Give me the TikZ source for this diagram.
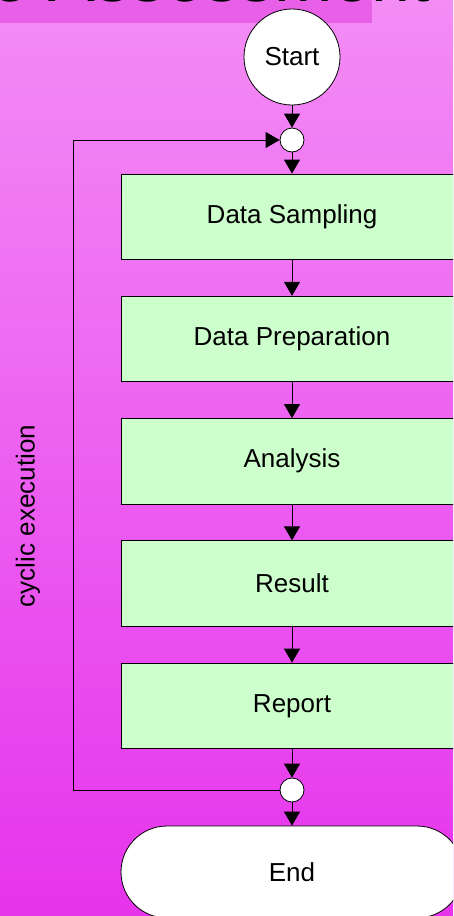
\documentclass[tikz,border=0pt]{standalone}
\usepackage{fontspec}
\setmainfont{Liberation Sans}
\usetikzlibrary{arrows.meta,calc}
\definecolor{bgtop}{RGB}{243,140,245}
\definecolor{bgbot}{RGB}{230,52,236}
\definecolor{band}{RGB}{232,96,232}
\definecolor{boxfill}{RGB}{204,255,204}
\begin{document}
\begin{tikzpicture}[x=1pt,y=-1pt,
  lbl/.style={font=\fontsize{26}{30}\selectfont},
  stepbox/.style={draw=black,line width=0.8pt,fill=boxfill,minimum width=342pt,minimum height=85.5pt,inner sep=0pt,lbl},
  junc/.style={circle,draw=black,line width=0.8pt,fill=white,minimum size=24pt,inner sep=0pt},
  conn/.style={line width=0.8pt,-{Triangle[width=16pt,length=14pt]}}]
\useasboundingbox (0,0) rectangle (453,916);
\clip (0,0) rectangle (453,916);
\shade[top color=bgtop,bottom color=bgbot] (0,0) rectangle (453,916);
\fill[band] (0,-5) rectangle (372,23);
\node[anchor=base west,inner sep=0pt,font=\fontsize{70}{80}\selectfont] (title) at (-10,1) {e Assessment};
\node[circle,draw=black,line width=0.8pt,fill=white,minimum size=96pt,inner sep=0pt,lbl] (start) at (292,57) {Start};
\node[junc] (j1) at (292,140) {};
\node[stepbox] (ds) at (292,216.75) {Data Sampling};
\node[stepbox] (dp) at (292,339) {Data Preparation};
\node[stepbox] (an) at (292,461.25) {Analysis};
\node[stepbox] (re) at (292,583.5) {Result};
\node[stepbox] (rp) at (292,705.75) {Report};
\node[junc] (j2) at (292,790) {};
\node[draw=black,line width=0.8pt,fill=white,rounded corners=46pt,minimum width=342pt,minimum height=92pt,inner sep=0pt,lbl] (end) at (292,872) {End};
\coordinate (lx) at (73,0);
\node[rotate=90,lbl] (cyc) at (28,516) {cyclic execution};
\draw[conn] (start.south) -- (j1.north);
\draw[conn] (j1.south) -- (ds.north);
\draw[conn] (ds.south) -- (dp.north);
\draw[conn] (dp.south) -- (an.north);
\draw[conn] (an.south) -- (re.north);
\draw[conn] (re.south) -- (rp.north);
\draw[conn] (rp.south) -- (j2.north);
\draw[conn] (j2.south) -- (end.north);
\draw[conn] (j2.west) -- (j2.west -| lx) |- (j1.west);
\end{tikzpicture}
\end{document}
